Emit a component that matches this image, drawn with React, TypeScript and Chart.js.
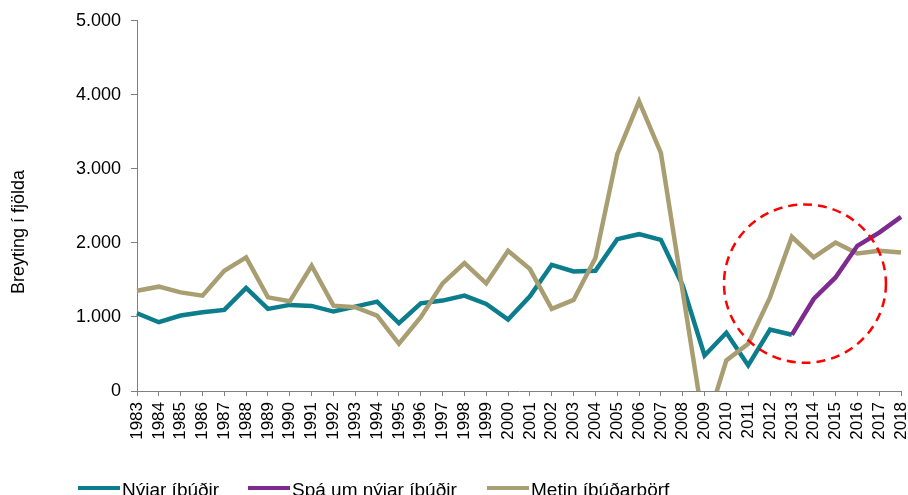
import React, { useEffect, useRef } from "react";
import { Chart, registerables } from "chart.js";

Chart.register(...registerables);

const years = [
  "1983", "1984", "1985", "1986", "1987", "1988", "1989", "1990", "1991", "1992",
  "1993", "1994", "1995", "1996", "1997", "1998", "1999", "2000", "2001", "2002",
  "2003", "2004", "2005", "2006", "2007", "2008", "2009", "2010", "2011", "2012",
  "2013", "2014", "2015", "2016", "2017", "2018",
];

// Nýjar íbúðir 1983–2013
const nyjarIbudir = [
  1050, 929, 1019, 1063, 1095, 1392, 1109, 1163, 1149, 1073,
  1140, 1207, 915, 1184, 1221, 1288, 1176, 965, 1279, 1705,
  1615, 1624, 2051, 2118, 2042, 1423, 480, 786, 346, 830, 759,
];

// Spá um nýjar íbúðir 2013–2018
const spaStartYear = "2013";
const spaUmNyjarIbudir = [759, 1243, 1534, 1961, 2140, 2351];

// Metin íbúðarþörf 1983–2018
const metinIbudarthorf = [
  1355, 1409, 1332, 1288, 1624, 1804, 1265, 1211, 1692, 1153,
  1131, 1019, 638, 996, 1454, 1728, 1454, 1894, 1647, 1109,
  1230, 1795, 3195, 3912, 3217, 1342, -530, 413, 638, 1265,
  2082, 1804, 2005, 1857, 1894, 1871,
];

const yTicks = [0, 1000, 2000, 3000, 4000, 5000];
const yTitle = "Breyting í fjölda";

// highlight circle in data units: [center year index, center value, radius in years, radius in value]
const circleCenterIndex = 30.6;
const circleCenterValue = 1450;
const circleRadiusIndex = 3.71;
const circleRadiusValue = 1070;

const TEAL = "#0b7d8c";
const PURPLE = "#7d2b8f";
const TAN = "#a89e72";
const AXIS = "#7f7f7f";
const FONT = "'Liberation Sans', Arial, sans-serif";

function fmt(v: number): string {
  return String(v).replace(/\B(?=(\d{3})+(?!\d))/g, ".");
}

const overlayPlugin = {
  id: "overlay",
  afterDatasetsDraw(chart: any) {
    const { ctx, scales } = chart;
    const x = scales.x;
    const y = scales.y;
    const cx = x.getPixelForValue(circleCenterIndex);
    const cy = y.getPixelForValue(circleCenterValue);
    const rx = Math.abs(x.getPixelForValue(circleCenterIndex + circleRadiusIndex) - cx);
    const ry = Math.abs(y.getPixelForValue(circleCenterValue + circleRadiusValue) - cy);
    ctx.save();
    ctx.strokeStyle = "#ff0000";
    ctx.lineWidth = 2.5;
    ctx.setLineDash([9, 6]);
    ctx.beginPath();
    ctx.ellipse(cx, cy, rx, ry, 0, 0, Math.PI * 2);
    ctx.stroke();
    ctx.restore();
  },
  afterDraw(chart: any) {
    const { ctx, chartArea } = chart;
    ctx.save();
    // y axis title
    ctx.fillStyle = "#000";
    ctx.font = `18px ${FONT}`;
    ctx.textAlign = "center";
    ctx.textBaseline = "middle";
    ctx.translate(19, (chartArea.top + chartArea.bottom) / 2 + 26);
    ctx.rotate(-Math.PI / 2);
    ctx.fillText(yTitle, 0, 0);
    ctx.restore();

    // legend
    const items = [
      { ds: chart.data.datasets[0], x: 78 },
      { ds: chart.data.datasets[1], x: 248 },
      { ds: chart.data.datasets[2], x: 487 },
    ];
    ctx.save();
    ctx.font = `19px ${FONT}`;
    ctx.textAlign = "left";
    ctx.textBaseline = "alphabetic";
    for (const it of items) {
      ctx.strokeStyle = it.ds.borderColor;
      ctx.lineWidth = 4;
      ctx.beginPath();
      ctx.moveTo(it.x, 488);
      ctx.lineTo(it.x + 42, 488);
      ctx.stroke();
      ctx.fillStyle = "#000";
      ctx.fillText(it.ds.label, it.x + 44, 496);
    }
    ctx.restore();
  },
};

export default function App() {
  const ref = useRef<HTMLCanvasElement | null>(null);

  useEffect(() => {
    if (!ref.current) return;
    const spaStart = years.indexOf(spaStartYear);
    const spaData = years.map((_, i) =>
      i >= spaStart && i - spaStart < spaUmNyjarIbudir.length ? spaUmNyjarIbudir[i - spaStart] : null
    );
    const nyjarData = years.map((_, i) => (i < nyjarIbudir.length ? nyjarIbudir[i] : null));

    const lineOpts = {
      borderWidth: 4.5,
      pointRadius: 0,
      pointHoverRadius: 0,
      tension: 0,
      fill: false,
      clip: { left: 5, top: 5, right: 5, bottom: 0 },
    };

    const chart = new Chart(ref.current, {
      type: "line",
      data: {
        labels: years,
        datasets: [
          { label: "Nýjar íbúðir", data: nyjarData, borderColor: TEAL, backgroundColor: TEAL, order: 3, ...lineOpts },
          { label: "Spá um nýjar íbúðir", data: spaData, borderColor: PURPLE, backgroundColor: PURPLE, order: 1, ...lineOpts },
          { label: "Metin íbúðarþörf", data: metinIbudarthorf, borderColor: TAN, backgroundColor: TAN, order: 2, ...lineOpts },
        ],
      },
      options: {
        animation: false,
        responsive: false,
        maintainAspectRatio: false,
        layout: { padding: { left: 0, right: 7, top: 19, bottom: 0 } },
        plugins: {
          legend: { display: false },
          tooltip: { enabled: false },
          title: { display: false },
        },
        scales: {
          x: {
            type: "category",
            offset: false,
            grid: { display: true, drawOnChartArea: false, drawTicks: true, tickLength: 5, color: AXIS },
            border: { display: true, color: AXIS, width: 1 },
            ticks: {
              autoSkip: false,
              maxRotation: 90,
              minRotation: 90,
              padding: 6,
              color: "#000",
              font: { family: FONT, size: 17 },
            },
            afterFit: (s: any) => {
              s.height = 104;
              s.paddingLeft = 0;
              s.paddingRight = 0;
            },
          },
          y: {
            min: 0,
            max: 5000,
            grid: { display: true, drawOnChartArea: false, drawTicks: true, tickLength: 6, color: AXIS },
            border: { display: true, color: AXIS, width: 1 },
            afterBuildTicks: (s: any) => {
              s.ticks = yTicks.map((v) => ({ value: v }));
            },
            ticks: {
              padding: 10,
              color: "#000",
              font: { family: FONT, size: 18 },
              callback: (v: any) => fmt(Number(v)),
            },
            afterFit: (s: any) => {
              s.width = 137;
            },
          },
        },
      },
      plugins: [overlayPlugin],
    } as any);
    return () => chart.destroy();
  }, []);

  return (
    <div style={{ position: "fixed", left: 0, top: 0, width: 908, height: 495, background: "#fff" }}>
      <canvas ref={ref} width={908} height={495} style={{ display: "block" }} />
    </div>
  );
}
